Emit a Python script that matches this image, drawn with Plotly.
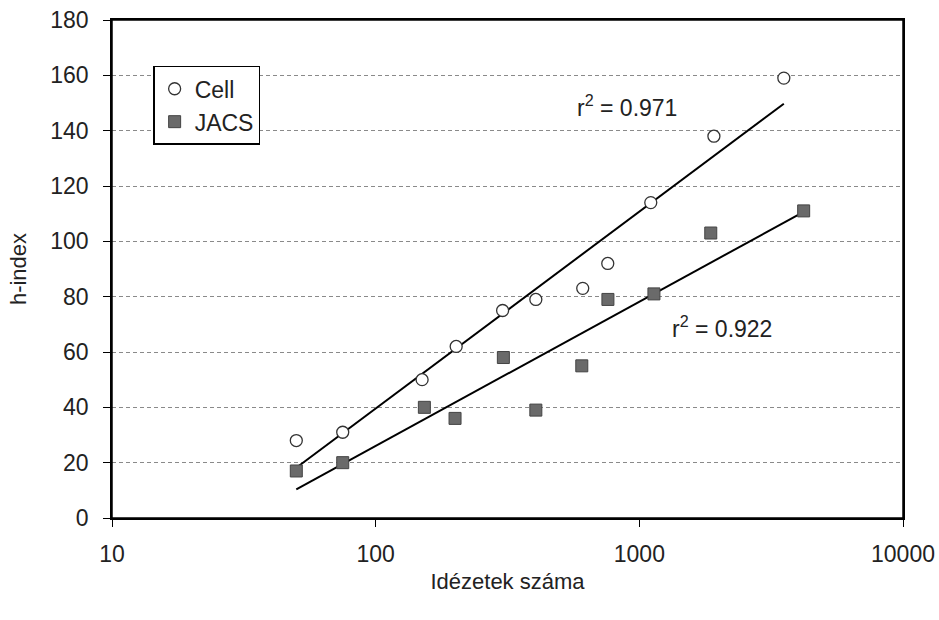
import numpy as np
import plotly.graph_objects as go

cell_x = [50, 75, 150, 202, 303, 405, 610, 759, 1105, 1918, 3532]
cell_y = [28, 31, 50, 62, 75, 79, 83, 92, 114, 138, 159]
jacs_x = [50, 75, 153, 200, 305, 405, 605, 760, 1136, 1866, 4200]
jacs_y = [17, 20, 40, 36, 58, 39, 55, 79, 81, 103, 111]
r2_labels = ["r<sup>2</sup> = 0.971", "r<sup>2</sup> = 0.922"]

def fit_line(xs, ys):
    lx = np.log10(xs)
    b, a = np.polyfit(lx, ys, 1)
    xe = np.array([min(xs), max(xs)], dtype=float)
    return xe, a + b * np.log10(xe)

font = "Liberation Sans, Arial, sans-serif"
fig = go.Figure()

cx, cy = fit_line(cell_x, cell_y)
jx, jy = fit_line(jacs_x, jacs_y)
fig.add_trace(go.Scatter(x=cx, y=cy, mode="lines", line=dict(color="black", width=2), showlegend=False))
fig.add_trace(go.Scatter(x=jx, y=jy, mode="lines", line=dict(color="black", width=2), showlegend=False))

fig.add_trace(go.Scatter(x=cell_x, y=cell_y, mode="markers", name="Cell", legendgroup="a",
                         marker=dict(symbol="circle", size=12, color="white",
                                     line=dict(color="#333", width=1.3))))
fig.add_trace(go.Scatter(x=jacs_x, y=jacs_y, mode="markers", name="JACS", legendgroup="b",
                         marker=dict(symbol="square", size=12, color="#6a6a6a",
                                     line=dict(color="#444", width=1))))

fig.add_annotation(x=np.log10(900), y=149, text=r2_labels[0], showarrow=False,
                   xanchor="center", font=dict(size=23, color="#222", family=font))
fig.add_annotation(x=np.log10(2050), y=69, text=r2_labels[1], showarrow=False,
                   xanchor="center", font=dict(size=23, color="#222", family=font))

# plot frame drawn as a shape so the top edge is always visible
fig.add_shape(type="rect", xref="paper", yref="paper", x0=0, y0=0, x1=1, y1=1,
              line=dict(color="black", width=1.5), fillcolor="rgba(0,0,0,0)", layer="above")

fig.update_layout(
    width=939, height=620,
    margin=dict(l=112, r=36, t=20, b=102),
    paper_bgcolor="white", plot_bgcolor="white",
    font=dict(family=font, size=23, color="#222"),
    legend=dict(x=0.052, y=0.908, xanchor="left", yanchor="top",
                bgcolor="white", bordercolor="black", borderwidth=1.5,
                font=dict(size=23), itemwidth=30, tracegroupgap=0),
    xaxis=dict(type="log", range=[1, 4], tickvals=[10, 100, 1000, 10000],
               ticktext=["10", "100", "1000", "10000"], automargin=False,
               showgrid=False, showline=True, linecolor="black", linewidth=1.5,
               mirror=True, ticks="outside", ticklen=7, tickcolor="black",
               ticklabelstandoff=8, ticklabeloverflow="allow",
               title=dict(text="Idézetek száma", font=dict(size=22), standoff=7)),
    yaxis=dict(range=[0, 180], dtick=20, showgrid=True, gridcolor="#8a8a8a",
               griddash="4px,3px", gridwidth=1, showline=True, linecolor="black",
               linewidth=1.5, mirror=True, ticks="outside", ticklen=7, tickcolor="black",
               ticklabelstandoff=10, zeroline=False, automargin=False,
               ticklabeloverflow="allow",
               title=dict(text="h-index", font=dict(size=22), standoff=18)),
)

fig.write_html("out.html", config={"displayModeBar": False},
               post_script="document.body.style.margin='0';")
